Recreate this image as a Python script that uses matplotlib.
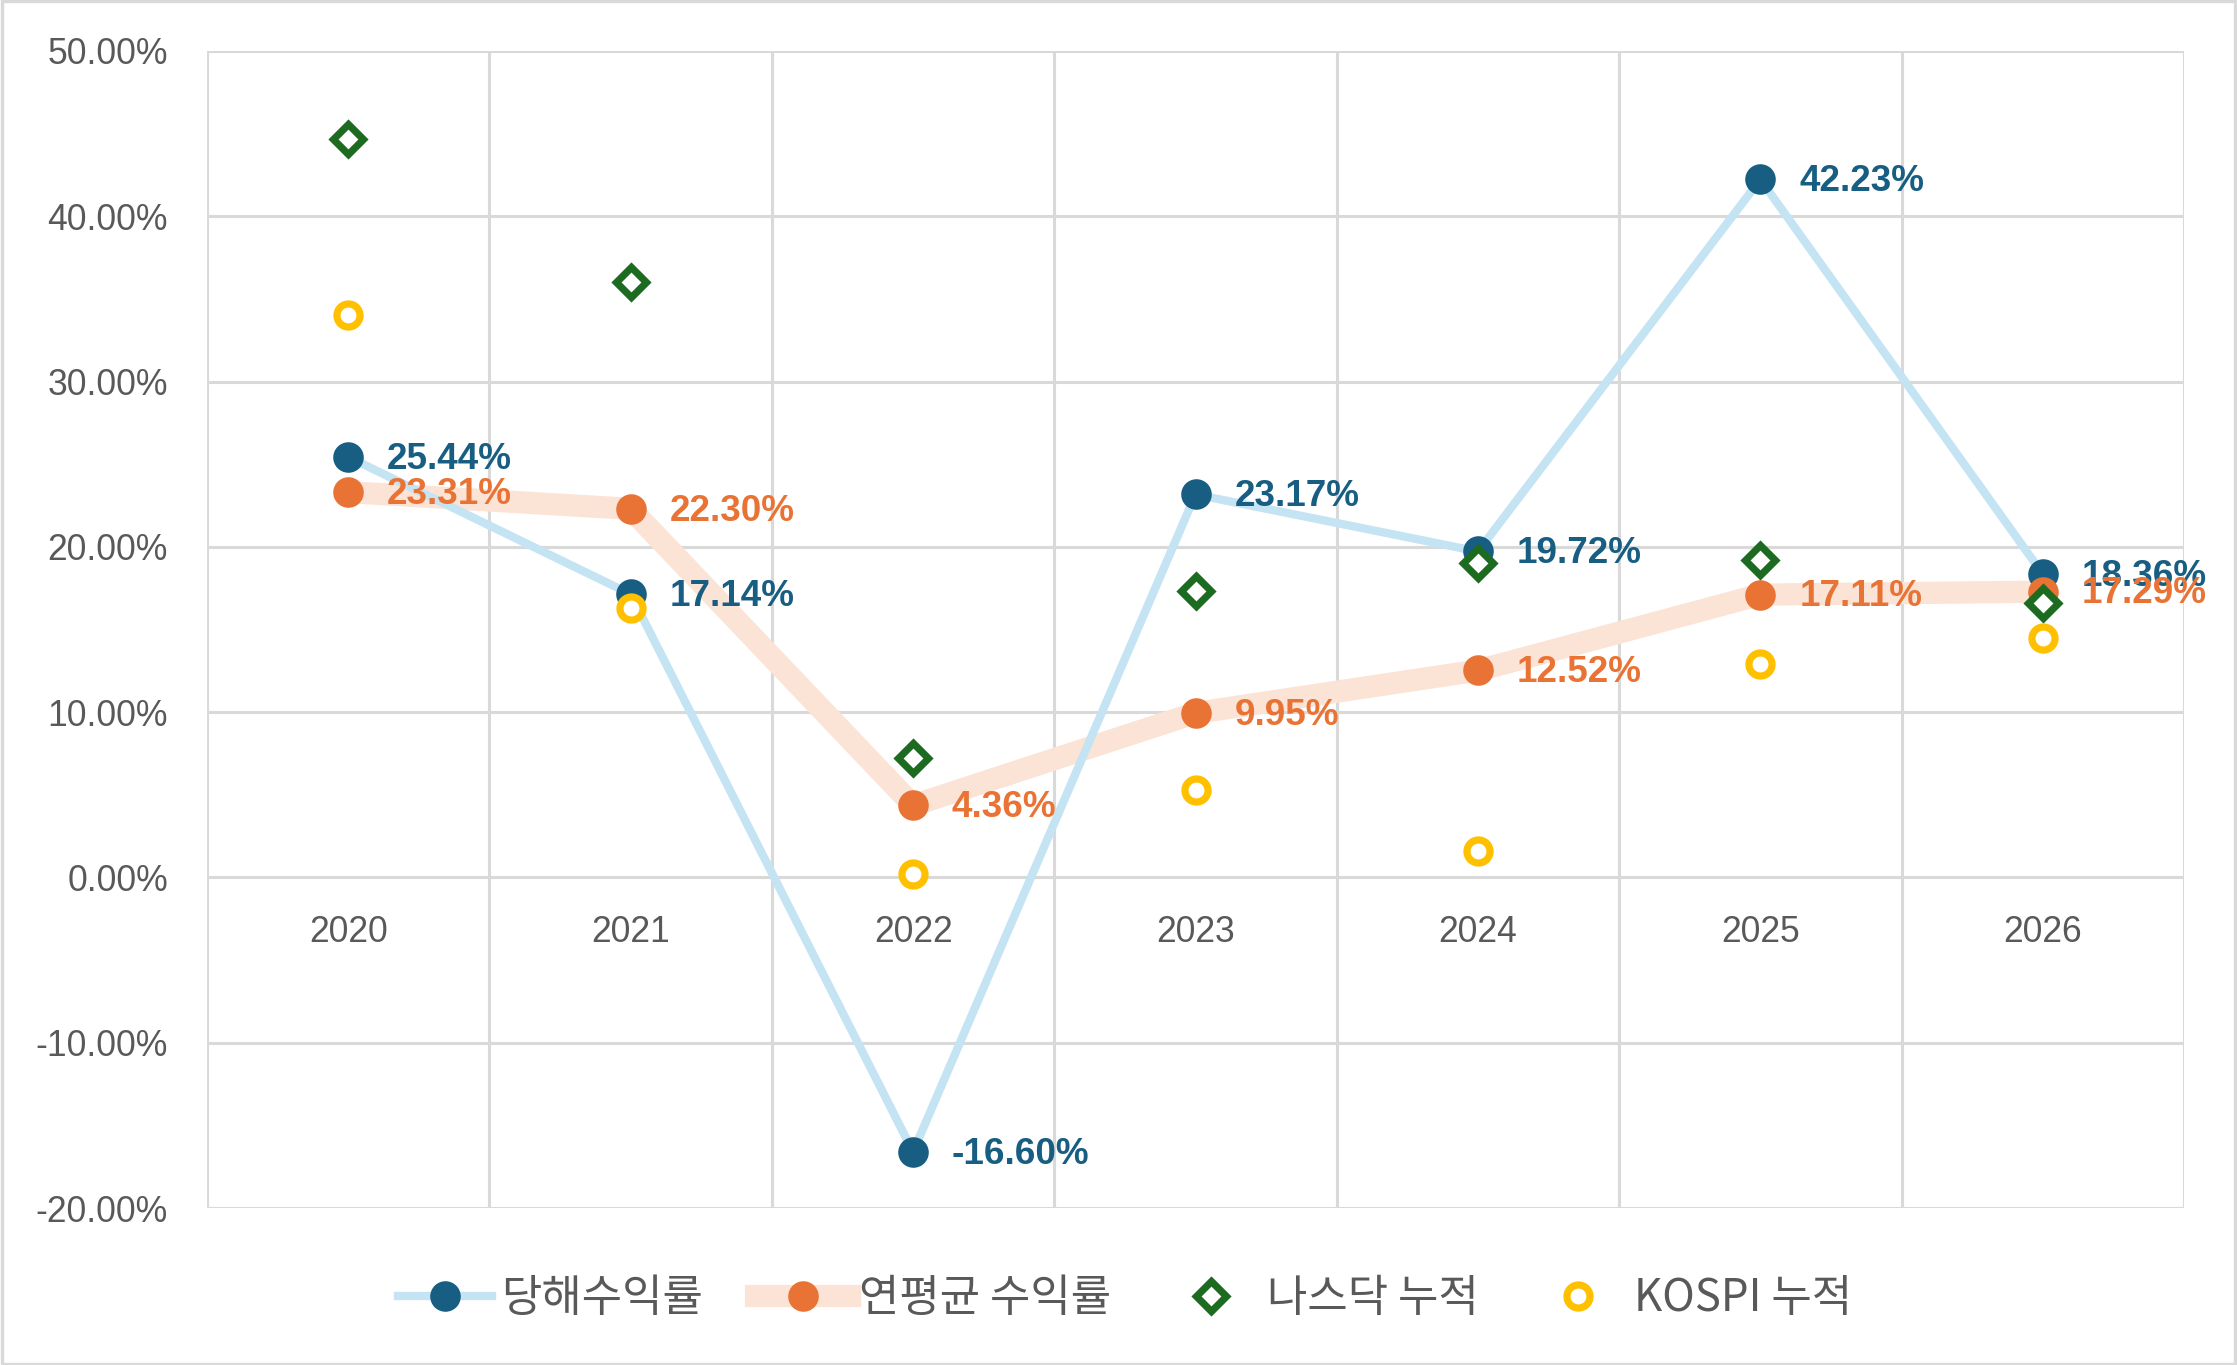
import numpy as np
import matplotlib
matplotlib.use("Agg")
import matplotlib.pyplot as plt
from matplotlib.lines import Line2D
from matplotlib.patches import Rectangle

years = ["2020", "2021", "2022", "2023", "2024", "2025", "2026"]
annual_return = [25.44, 17.14, -16.60, 23.17, 19.72, 42.23, 18.36]
avg_return = [23.31, 22.30, 4.36, 9.95, 12.52, 17.11, 17.29]
nasdaq_cum = [44.7, 36.0, 7.2, 17.3, 19.0, 19.2, 16.6]
kospi_cum = [34.0, 16.3, 0.2, 5.3, 1.6, 12.9, 14.5]
series_names = ["당해수익률", "연평균 수익률", "나스닥 누적", "KOSPI 누적"]
y_ticks = [-20, -10, 0, 10, 20, 30, 40, 50]

DPI = 200
fig = plt.figure(figsize=(2237 / DPI, 1365 / DPI), dpi=DPI)
ax = fig.add_axes([207 / 2237, 1 - 1208 / 1365, (2184 - 207) / 2237, (1208 - 51) / 1365])
ax.spines["bottom"].set_position(("data", 0))

blue_dark = "#175e82"
blue_light = "#c4e4f4"
orange = "#e97334"
peach = "#fbe3d6"
green = "#1c6b20"
yellow = "#ffc000"
gray_txt = "#595959"
grid_c = "#d9d9d9"

x = np.arange(len(years))

ax.plot(x, avg_return, color=peach, lw=8, solid_capstyle="butt", solid_joinstyle="round", zorder=2)
ax.plot(x, annual_return, color=blue_light, lw=3.0, solid_joinstyle="round", zorder=2.5)
ax.plot(x, annual_return, ls="none", marker="o", ms=10, mfc=blue_dark, mec=blue_dark, zorder=4)
ax.plot(x, avg_return, ls="none", marker="o", ms=10, mfc=orange, mec=orange, zorder=4.1)
ax.plot(x, nasdaq_cum, ls="none", marker="D", ms=7.5, mfc="white", mec=green, mew=2.6, zorder=4.2)
ax.plot(x, kospi_cum, ls="none", marker="o", ms=8.3, mfc="white", mec=yellow, mew=2.6, zorder=4.3)

lab_font = dict(family=["Liberation Sans", "DejaVu Sans"], weight="bold", size=13.3)
for i, v in enumerate(annual_return):
    ax.annotate(f"{v:.2f}%", (x[i], v), xytext=(14, -0.8), textcoords="offset points",
                va="center", ha="left", color=blue_dark, zorder=6, **lab_font)
for i, v in enumerate(avg_return):
    ax.annotate(f"{v:.2f}%", (x[i], v), xytext=(14, -0.8), textcoords="offset points",
                va="center", ha="left", color=orange, zorder=6, **lab_font)

ax.set_xlim(-0.5, len(years) - 0.5)
ax.set_ylim(min(y_ticks), max(y_ticks))
ax.set_yticks(y_ticks)
ax.set_yticklabels([f"{t:.2f}%" for t in y_ticks], family=["Liberation Sans", "DejaVu Sans"],
                   size=12.8, color=gray_txt)
ax.set_xticks(x)
ax.set_xticklabels(years, family=["Liberation Sans", "DejaVu Sans"], size=12.8, color=gray_txt)
ax.set_xticks(np.arange(-0.5, len(years)), minor=True)
ax.tick_params(axis="both", which="both", length=0)
ax.tick_params(axis="y", pad=14)
ax.tick_params(axis="x", which="major", pad=13.5)
for s in ax.spines.values():
    s.set_visible(False)
ax.grid(True, axis="y", which="major", color=grid_c, lw=1.1, zorder=0)
ax.grid(True, axis="x", which="minor", color=grid_c, lw=1.1, zorder=0)
ax.grid(False, axis="x", which="major")
ax.set_axisbelow(True)

handles = [
    Line2D([], [], color=blue_light, lw=3.0, marker="o", ms=10, mfc=blue_dark, mec=blue_dark),
    Line2D([], [], color=peach, lw=8, marker="o", ms=10, mfc=orange, mec=orange),
    Line2D([], [], ls="none", marker="D", ms=7.5, mfc="white", mec=green, mew=2.6),
    Line2D([], [], ls="none", marker="o", ms=8.3, mfc="white", mec=yellow, mew=2.6),
]
leg = fig.legend(handles, series_names, loc="center", bbox_to_anchor=(0.503, 0.049), ncol=4,
                 frameon=False, handlelength=2.15, handletextpad=0.2, columnspacing=1.2,
                 prop=dict(family=["Noto Sans CJK KR", "DejaVu Sans"], size=15.8))
for t in leg.get_texts():
    t.set_color(gray_txt)

fig.patches.append(Rectangle((0.001, 0.001), 0.998, 0.998, transform=fig.transFigure,
                             fill=False, edgecolor=grid_c, lw=1.2))

fig.savefig("out.png", dpi=DPI, facecolor="white")
